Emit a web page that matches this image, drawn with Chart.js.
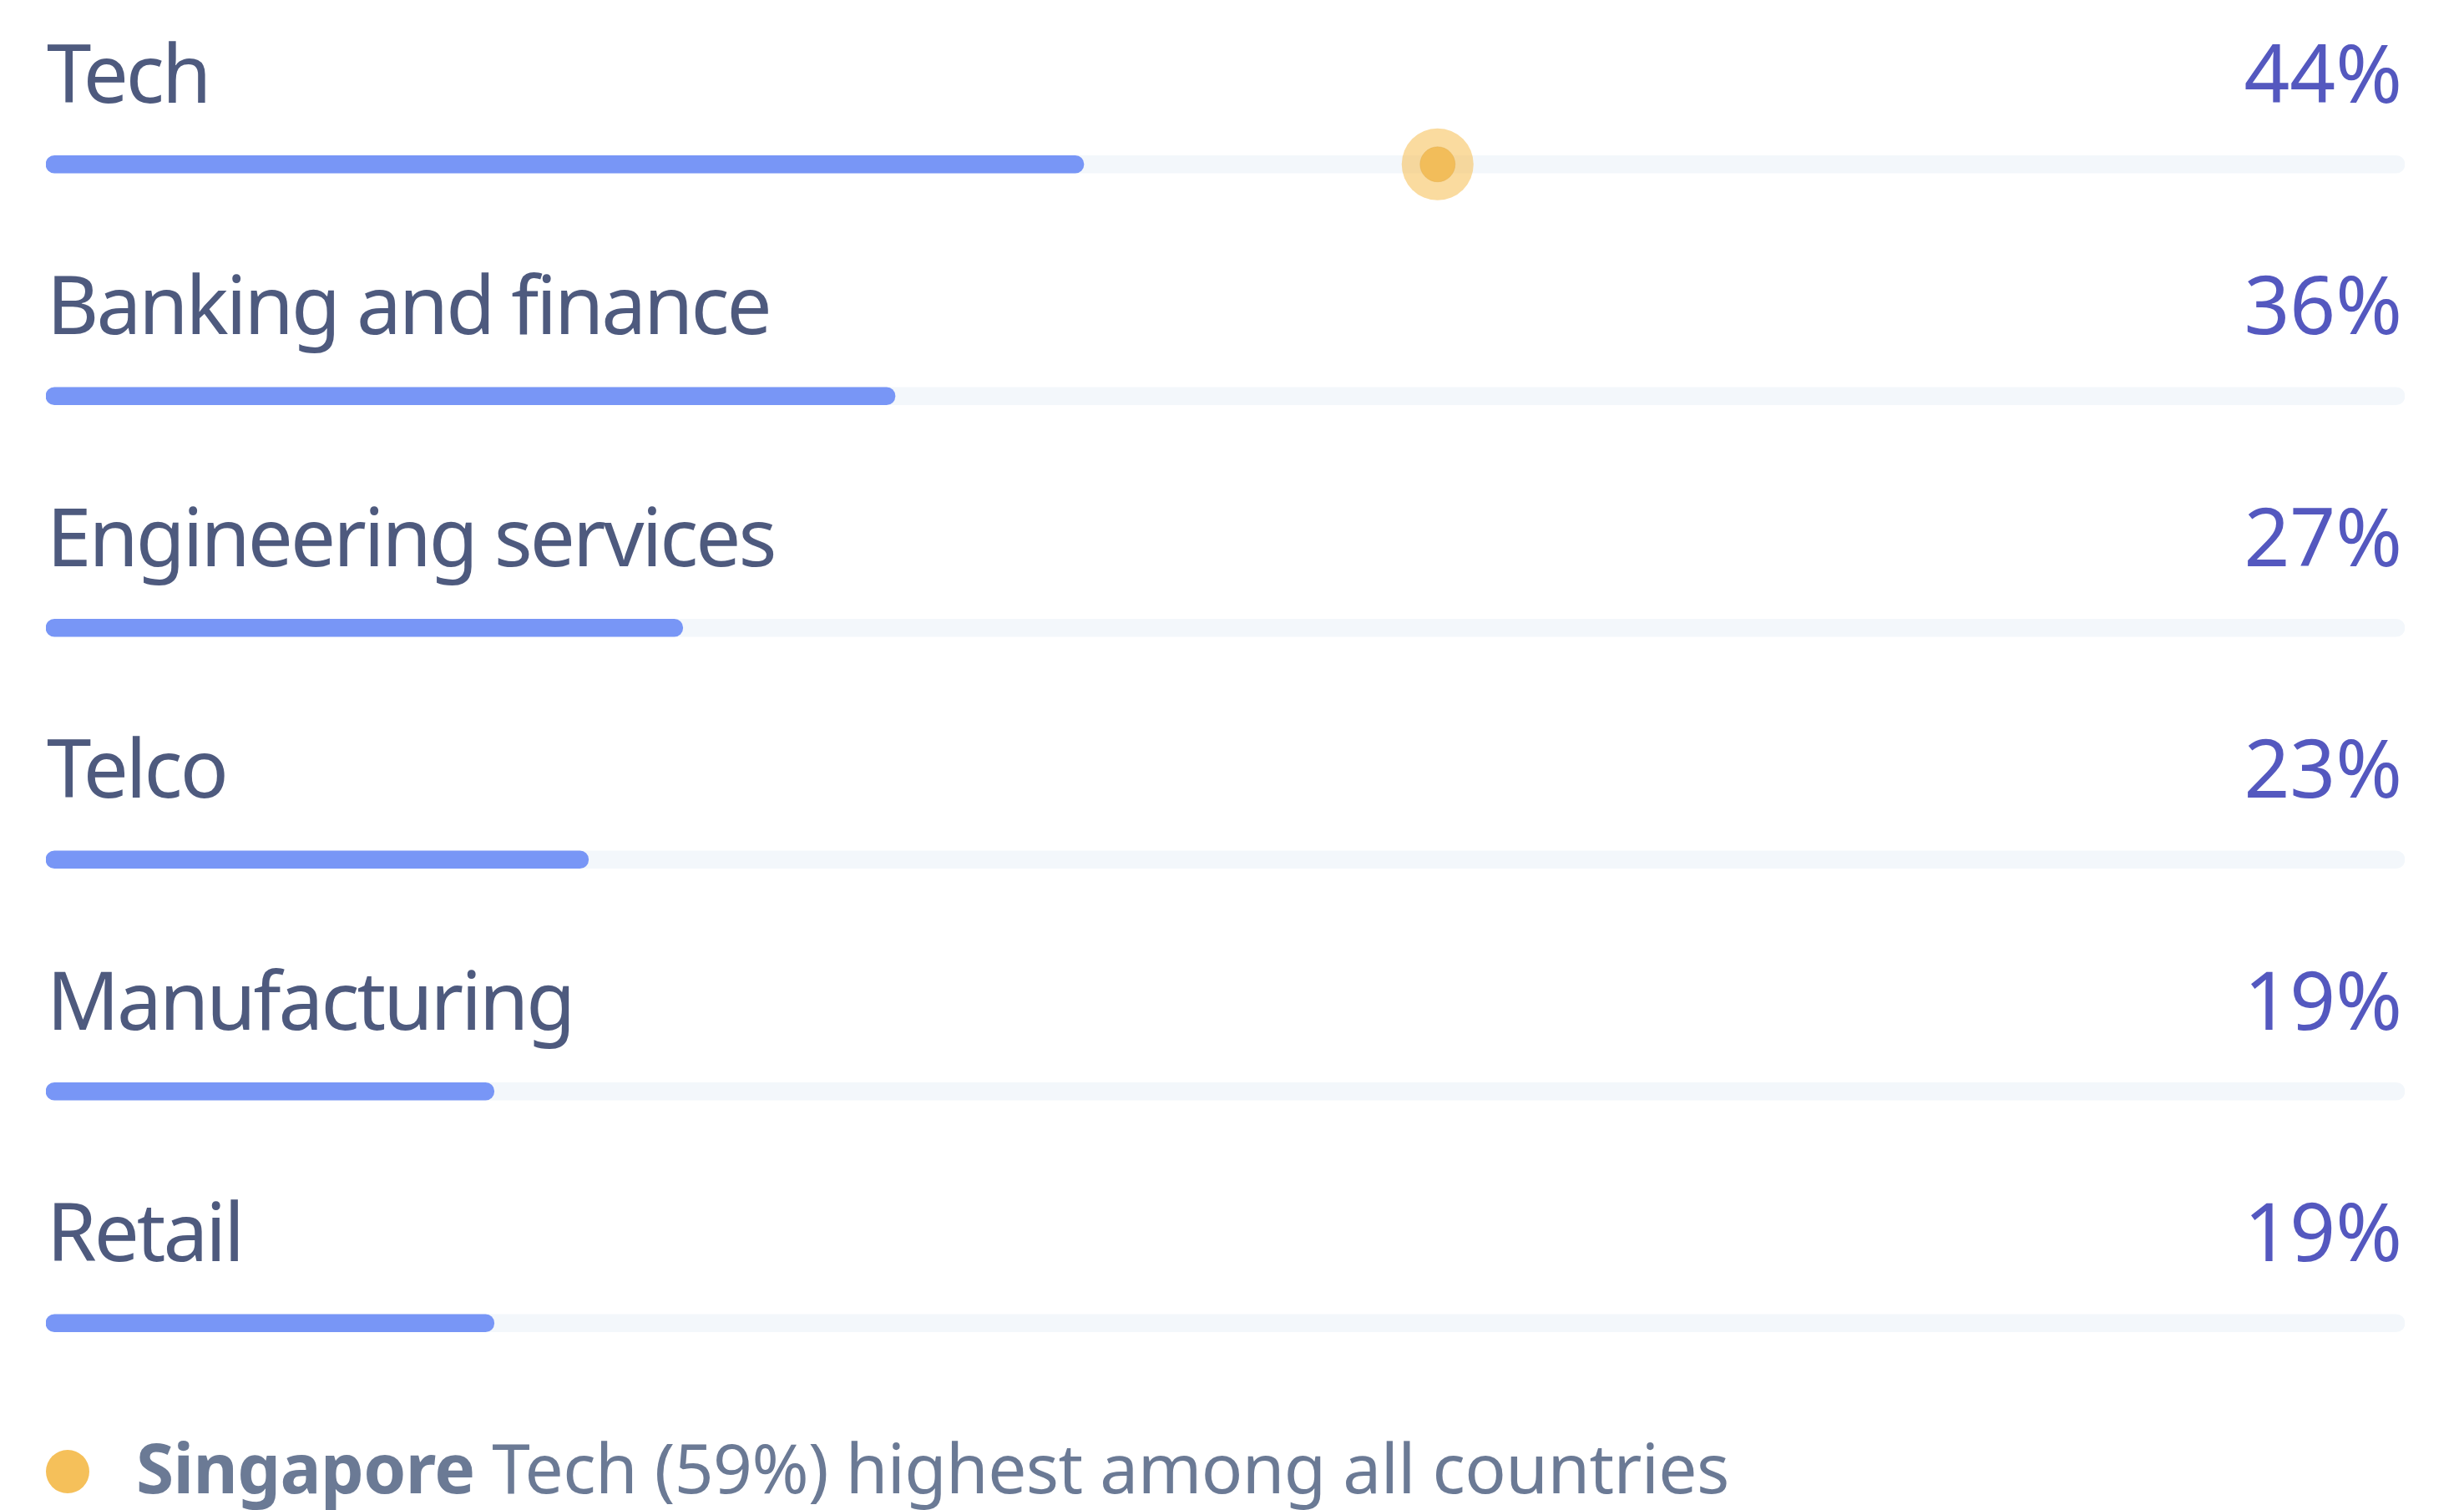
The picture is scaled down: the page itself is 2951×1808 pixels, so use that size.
<!DOCTYPE html>
<html>
<head>
<meta charset="utf-8">
<script src="https://cdn.jsdelivr.net/npm/chart.js@4.4.1/dist/chart.umd.min.js"></script>
<style>
    html, body { margin: 0; padding: 0; background: #ffffff; }
    #wrap { position: relative; width: 2951px; height: 1808px; }
    #chart { position: absolute; left: 0; top: 0; }
    .note {
        position: absolute;
        left: 55px;
        top: 1715px;
        font-family: "Noto Sans", sans-serif;
        font-size: 82px;
        line-height: 1;
        color: #6b7a95;
        white-space: nowrap;
        letter-spacing: -0.6px;
    }
    .note .dot {
        position: absolute;
        left: 0;
        top: 21px;
        width: 52px;
        height: 52px;
        border-radius: 50%;
        background: #f5c05a;
    }
    .note .txt { position: absolute; left: 108px; top: 0; }
    .note b { font-weight: 700; }
</style>
</head>
<body>
<div id="wrap">
    <canvas id="chart" width="2951" height="1808"></canvas>
    <div class="note"><span class="dot"></span><span class="txt"><b>Singapore</b> Tech (59%) highest among all countries</span></div>
</div>
<script>
    // ---------------------------------------------------------
    // Data
    // ---------------------------------------------------------
    const categories = ["Tech", "Banking and finance", "Engineering services", "Telco", "Manufacturing", "Retail"];
    const shares = [44, 36, 27, 23, 19, 19];
    const trackMax = [100, 100, 100, 100, 100, 100];
    const highlightCategory = "Tech";
    const highlightValue = 59;

    const labelColor = "#4e5a7e";
    const valueColor = "#5458bf";

    // ---------------------------------------------------------
    // Labels above each bar (name left, percent right)
    // ---------------------------------------------------------
    const rowLabels = {
        id: "rowLabels",
        afterDatasetsDraw(chart) {
            const { ctx, chartArea, scales } = chart;
            ctx.save();
            ctx.font = '96px "Noto Sans", sans-serif';
            ctx.textBaseline = "alphabetic";
            categories.forEach((name, i) => {
                const y = scales.y.getPixelForValue(i) - 74;
                ctx.fillStyle = labelColor;
                ctx.textAlign = "left";
                ctx.letterSpacing = "-3px";
                ctx.fillText(name, chartArea.left + 1, y);
                ctx.fillStyle = valueColor;
                ctx.textAlign = "right";
                ctx.letterSpacing = "0px";
                ctx.fillText(shares[i] + "%", chartArea.right - 3, y);
            });
            ctx.restore();
        }
    };

    new Chart(document.getElementById("chart"), {
        type: "bar",
        data: {
            labels: categories,
            datasets: [
                {
                    type: "scatter",
                    data: [{ x: highlightValue, y: highlightCategory }],
                    pointRadius: 21,
                    pointHoverRadius: 21,
                    backgroundColor: "#f2bd5a",
                    borderColor: "rgba(222,165,70,0.35)",
                    borderWidth: 1,
                    order: 0,
                },
                {
                    type: "scatter",
                    data: [{ x: highlightValue, y: highlightCategory }],
                    pointRadius: 43,
                    pointHoverRadius: 43,
                    backgroundColor: "rgba(246,190,80,0.55)",
                    borderWidth: 0,
                    order: 1,
                },
                {
                    data: shares,
                    backgroundColor: "#7896f6",
                    barThickness: 21,
                    borderRadius: 11,
                    borderSkipped: false,
                    grouped: false,
                    order: 2,
                },
                {
                    data: trackMax,
                    backgroundColor: "#f3f7fb",
                    barThickness: 21,
                    borderRadius: 11,
                    borderSkipped: false,
                    grouped: false,
                    order: 3,
                },
            ],
        },
        options: {
            indexAxis: "y",
            responsive: false,
            animation: false,
            events: [],
            layout: {
                padding: { left: 55, right: 71, top: 58, bottom: 85 },
            },
            plugins: {
                legend: { display: false },
                tooltip: { enabled: false },
            },
            scales: {
                x: { type: "linear", min: 0, max: 100, display: false },
                y: { type: "category", display: false },
            },
        },
        plugins: [rowLabels],
    });
</script>
</body>
</html>
